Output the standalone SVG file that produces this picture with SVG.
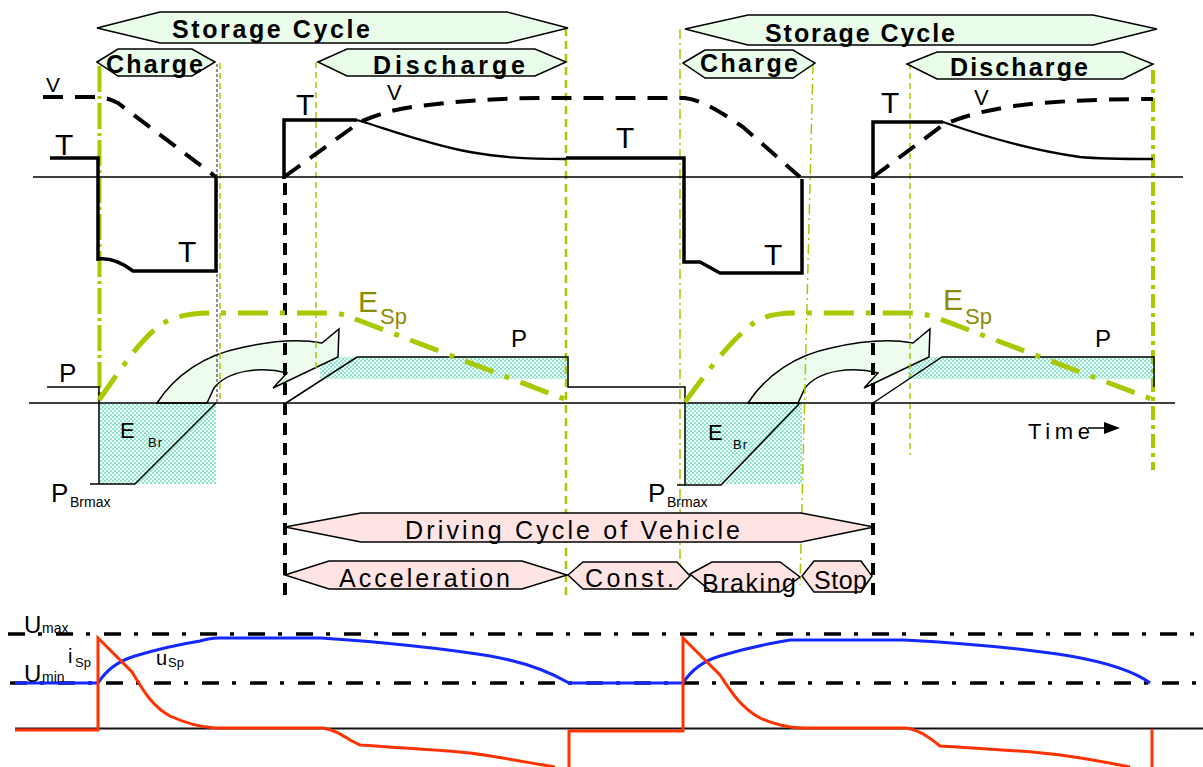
<svg xmlns="http://www.w3.org/2000/svg" xmlns:xlink="http://www.w3.org/1999/xlink" width="1203" height="767" viewBox="0 0 1203 767">
  <style>
    .bn-g { fill: #eafcea; stroke: #000; stroke-width: 1.5; stroke-linejoin: miter; }
    .bn-p { fill: #ffe4e4; stroke: #000; stroke-width: 1.5; }
    .tb { font-family: "Liberation Sans", Arial, sans-serif; font-weight: bold; font-size: 25px; fill: #000; }
    .tr { font-family: "Liberation Sans", Arial, sans-serif; font-size: 25px; fill: #000; }
    .lbl { font-family: "Liberation Sans", Arial, sans-serif; fill: #000; }
    .esp { font-family: "Liberation Sans", Arial, sans-serif; fill: #8c8c00; }
    .ax { stroke: #000; stroke-width: 1.4; fill: none; }
    .thick { stroke: #000; stroke-width: 3.5; fill: none; stroke-linejoin: miter; }
    .decay { stroke: #000; stroke-width: 2.3; fill: none; }
    .vel { stroke: #000; stroke-width: 4; fill: none; stroke-dasharray: 20 12; }
    .pw { stroke: #000; stroke-width: 1.5; fill: none; }
    .esl { stroke: #a8c800; stroke-width: 5; fill: none; stroke-dasharray: 30 12 5 12; }
    .gthin { stroke: #a8c800; stroke-width: 1.5; fill: none; stroke-dasharray: 6 4; }
    .gdd { stroke: #a8c800; stroke-width: 1.5; fill: none; stroke-dasharray: 10 4 2 4; }
    .gthick { stroke: #a8c800; stroke-width: 4; fill: none; stroke-dasharray: 26 4 3 4; }
    .gmed { stroke: #a8c800; stroke-width: 2.5; fill: none; stroke-dasharray: 8 5; }
    .bdash { stroke: #000; stroke-width: 4; fill: none; stroke-dasharray: 12 8; }
    .ulim { stroke: #000; stroke-width: 3.5; fill: none; stroke-dasharray: 17 13 4 14; }
    .usp { stroke: #1428ff; stroke-width: 3; fill: none; }
    .isp { stroke: #ff3300; stroke-width: 3; fill: none; }
    .arrow { fill: #eefcee; stroke: #000; stroke-width: 1.5; }
    .hatch { fill: url(#dots); }
  </style>
  <defs>
    <pattern id="dots" width="4" height="4" patternUnits="userSpaceOnUse">
      <rect width="4" height="4" fill="#f2fdf9"/>
      <circle cx="1" cy="1" r="0.8" fill="#12cc9c"/>
      <circle cx="3" cy="3" r="0.8" fill="#12cc9c"/>
    </pattern>
    <path id="transfer" class="arrow" d="M157,403 C175,375 205,355 240,348 C270,341 300,339 322,343 L339,329 L338,357 L273,388 L287,373 C262,366 228,370 214,388 L207,403 Z"/>
  </defs>
  <rect width="1203" height="767" fill="#ffffff"/>

  <!-- hatched energy areas -->
  <g id="energy-areas">
    <rect class="hatch" x="99" y="403" width="117" height="81"/>
    <rect class="hatch" x="320" y="357" width="247" height="22"/>
    <rect class="hatch" x="685" y="403" width="117" height="81"/>
    <rect class="hatch" x="908" y="357" width="246" height="22"/>
  </g>

  <!-- energy transfer arrows -->
  <g id="transfer-arrows">
    <use xlink:href="#transfer"/>
    <use xlink:href="#transfer" transform="translate(591,0)"/>
  </g>

  <!-- phase boundary markers -->
  <g id="markers">
    <line class="gthick" x1="99.5" y1="66" x2="99.5" y2="400"/>
    <line x1="217" y1="64" x2="217" y2="403" stroke="#222" stroke-width="1" stroke-dasharray="3 2"/>
    <line class="gthin" x1="220" y1="63" x2="220" y2="403"/>
    <line class="gthin" x1="316" y1="62" x2="316" y2="372"/>
    <line class="gmed" x1="566" y1="28" x2="566" y2="598"/>
    <line class="gdd" x1="680" y1="29" x2="680" y2="590"/>
    <line class="gdd" x1="813" y1="64" x2="800" y2="585"/>
    <line class="gthin" x1="910" y1="63" x2="910" y2="455"/>
    <line class="gthick" x1="1153" y1="70" x2="1153" y2="470" style="stroke-dasharray:14 5 4 5"/>
    <line class="bdash" x1="285" y1="183" x2="285" y2="600"/>
    <line class="bdash" x1="873" y1="183" x2="873" y2="600"/>
  </g>

  <!-- axes -->
  <g id="axes">
    <line class="ax" x1="33" y1="177" x2="1183" y2="177"/>
    <line class="ax" x1="29" y1="403" x2="1175" y2="403"/>
    <line x1="15" y1="728.5" x2="1203" y2="728.5" stroke="#111" stroke-width="2"/>
    <line class="ulim" x1="8" y1="634" x2="1200" y2="634"/>
    <line class="ulim" x1="10" y1="683" x2="1200" y2="683"/>
  </g>

  <!-- torque, velocity, power, stored energy -->
  <g id="connectors">
    <path class="thick" d="M50,158 H98 V259 Q115,257 133,271 H216 V177"/>
    <path class="thick" d="M284,179 V120 H357"/>
    <path class="decay" d="M357,120 C390,130 430,145 470,152 C500,157 520,159 566,159"/>
    <path class="thick" d="M566,158 H684 V262 L700,262 L720,273 H802 V179"/>
    <path class="thick" d="M873,179 V122 H943"/>
    <path class="decay" d="M943,122 C980,135 1030,150 1080,157 C1100,159 1120,159 1153,159"/>

    <path class="vel" d="M43,97 H97 Q106,97 118,103 L216,177"/>
    <path class="vel" d="M284,177 L360,122 C380,113 400,108 420,106 C460,101 500,98 540,98 H685 C700,100 715,108 743,127 L800,177"/>
    <path class="vel" d="M873,177 L943,125 C970,113 1000,107 1040,103 C1080,100 1120,99 1153,99"/>

    <path class="pw" d="M47,387 H99 V484"/>
    <path class="pw" d="M90,484 H135 L216,403"/>
    <path class="pw" d="M286,403 L357,357 H568 V387 H685 V485 H721 L800,403"/>
    <path class="pw" d="M677,485 H685"/>
    <path class="pw" d="M873,403 L942,357 H1154 V387"/>

    <path class="esl" d="M99,400 C115,378 135,345 160,325 C180,313 200,313 215,313 H333 C345,314 350,317 358,320 L567,400"/>
    <path class="esl" d="M685,402 C705,375 730,340 755,322 C770,313 785,313 800,313 H915 C925,314 932,316 940,319 L1154,400"/>

    <path class="usp" d="M15,683 H98 C105,672 115,662 135,656 C155,650 175,645 200,641 C207,639 212,638 218,638 H321 C380,642 440,648 490,656 C525,662 550,672 569,683 H683 C690,672 700,662 720,656 C740,650 760,645 790,640 H904 C960,643 1020,648 1070,656 C1110,663 1135,672 1150,683"/>
    <path class="isp" d="M15,730 H98 V638 L132,672 C140,685 150,705 170,716 C185,723 200,727 215,728 H323 C335,730 342,735 350,740 L360,745 C400,748 440,750 470,753 C500,757 530,763 555,767"/>
    <path class="isp" d="M569,767 V731 H683 V638 L720,675 C730,690 740,707 760,718 C775,725 790,728 805,728 H906 C920,730 930,738 940,746 C990,749 1030,751 1060,755 C1090,759 1110,763 1130,767"/>
    <path class="isp" d="M1152,729 V767"/>

    <line x1="1088" y1="428" x2="1106" y2="428" stroke="#000" stroke-width="1.5"/>
    <polygon points="1104,422 1120,428 1104,434" fill="#000"/>
  </g>

  <!-- cycle banners -->
  <g id="storage-cycle-1">
    <polygon class="bn-g" points="97,28 160,12 507,12 568,28 507,43 160,43"/>
    <text class="tb" x="172" y="38" textLength="198" lengthAdjust="spacing">Storage  Cycle</text>
  </g>
  <g id="charge-1">
    <polygon class="bn-g" points="97,62 118,49 192,49 215,62 192,76 118,76"/>
    <text class="tb" x="106" y="73" textLength="97" lengthAdjust="spacing">Charge</text>
  </g>
  <g id="discharge-1">
    <polygon class="bn-g" points="318,62 347,49 535,49 566,62 535,76 347,76"/>
    <text class="tb" x="373" y="74" textLength="152" lengthAdjust="spacing">Discharge</text>
  </g>
  <g id="storage-cycle-2">
    <polygon class="bn-g" points="685,29 748,15 1093,15 1157,29 1093,45 748,45"/>
    <text class="tb" x="765" y="42" textLength="190" lengthAdjust="spacing">Storage Cycle</text>
  </g>
  <g id="charge-2">
    <polygon class="bn-g" points="683,63 705,50 793,50 815,63 793,78 705,78"/>
    <text class="tb" x="700" y="72" textLength="98" lengthAdjust="spacing">Charge</text>
  </g>
  <g id="discharge-2">
    <polygon class="bn-g" points="907,64 937,52 1123,52 1153,64 1123,79 937,79"/>
    <text class="tb" x="950" y="76" textLength="138" lengthAdjust="spacing">Discharge</text>
  </g>

  <g id="driving-cycle">
    <polygon class="bn-p" points="285,527 361,513 801,513 874,527 801,542 361,542"/>
    <text class="tr" x="405" y="539" textLength="335" lengthAdjust="spacing">Driving Cycle of Vehicle</text>
  </g>
  <g id="acceleration">
    <polygon class="bn-p" points="285,575 329,561 522,561 567,575 522,589 329,589"/>
    <text class="tr" x="339" y="587" textLength="171" lengthAdjust="spacing">Acceleration</text>
  </g>
  <g id="const">
    <polygon class="bn-p" points="568,575 583,562 677,562 690,576 677,589 583,589"/>
    <text class="tr" x="585" y="587" textLength="89" lengthAdjust="spacing">Const.</text>
  </g>
  <g id="braking">
    <polygon class="bn-p" points="690,574 712,562 780,562 800,577 780,592 712,592"/>
    <text class="tr" x="702" y="592" textLength="94" lengthAdjust="spacing">Braking</text>
  </g>
  <g id="stop">
    <polygon class="bn-p" points="802,576 814,561 861,561 872,576 861,592 814,592"/>
    <text class="tr" x="814" y="589" textLength="53" lengthAdjust="spacing">Stop</text>
  </g>

  <!-- signal labels -->
  <g id="labels">
    <text class="lbl" x="46" y="92" font-size="21">V</text>
    <text class="lbl" x="387" y="100" font-size="22">V</text>
    <text class="lbl" x="974" y="105" font-size="22">V</text>
    <text class="lbl" x="55" y="155" font-size="30">T</text>
    <text class="lbl" x="178" y="262" font-size="30">T</text>
    <text class="lbl" x="296" y="115" font-size="30">T</text>
    <text class="lbl" x="616" y="148" font-size="30">T</text>
    <text class="lbl" x="764" y="265" font-size="30">T</text>
    <text class="lbl" x="881" y="113" font-size="30">T</text>

    <text class="lbl" x="59" y="382" font-size="26">P</text>
    <text class="lbl" x="511" y="347" font-size="24">P</text>
    <text class="lbl" x="1095" y="347" font-size="24">P</text>
    <text class="lbl" x="51" y="502" font-size="26">P</text>
    <text class="lbl" x="70" y="507" font-size="14">Brmax</text>
    <text class="lbl" x="648" y="502" font-size="26">P</text>
    <text class="lbl" x="667" y="507" font-size="14">Brmax</text>

    <text class="lbl" x="120" y="438" font-size="22">E</text>
    <text class="lbl" x="148" y="447" font-size="13" letter-spacing="1">Br</text>
    <text class="lbl" x="708" y="440" font-size="22">E</text>
    <text class="lbl" x="733" y="449" font-size="13" letter-spacing="1">Br</text>

    <text class="esp" x="358" y="312" font-size="30">E</text>
    <text class="esp" x="380" y="324" font-size="22">Sp</text>
    <text class="esp" x="943" y="310" font-size="30">E</text>
    <text class="esp" x="965" y="324" font-size="22">Sp</text>

    <text class="lbl" x="1028" y="439" font-size="22" textLength="62" lengthAdjust="spacing">Time</text>

    <text class="lbl" x="24" y="633" font-size="24">U</text>
    <text class="lbl" x="42" y="633" font-size="14">max</text>
    <text class="lbl" x="24" y="682" font-size="24">U</text>
    <text class="lbl" x="42" y="682" font-size="14">min</text>
    <text class="lbl" x="68" y="663" font-size="20">i</text>
    <text class="lbl" x="75" y="667" font-size="13">Sp</text>
    <text class="lbl" x="156" y="665" font-size="20">u</text>
    <text class="lbl" x="168" y="667" font-size="13">Sp</text>
  </g>
</svg>
